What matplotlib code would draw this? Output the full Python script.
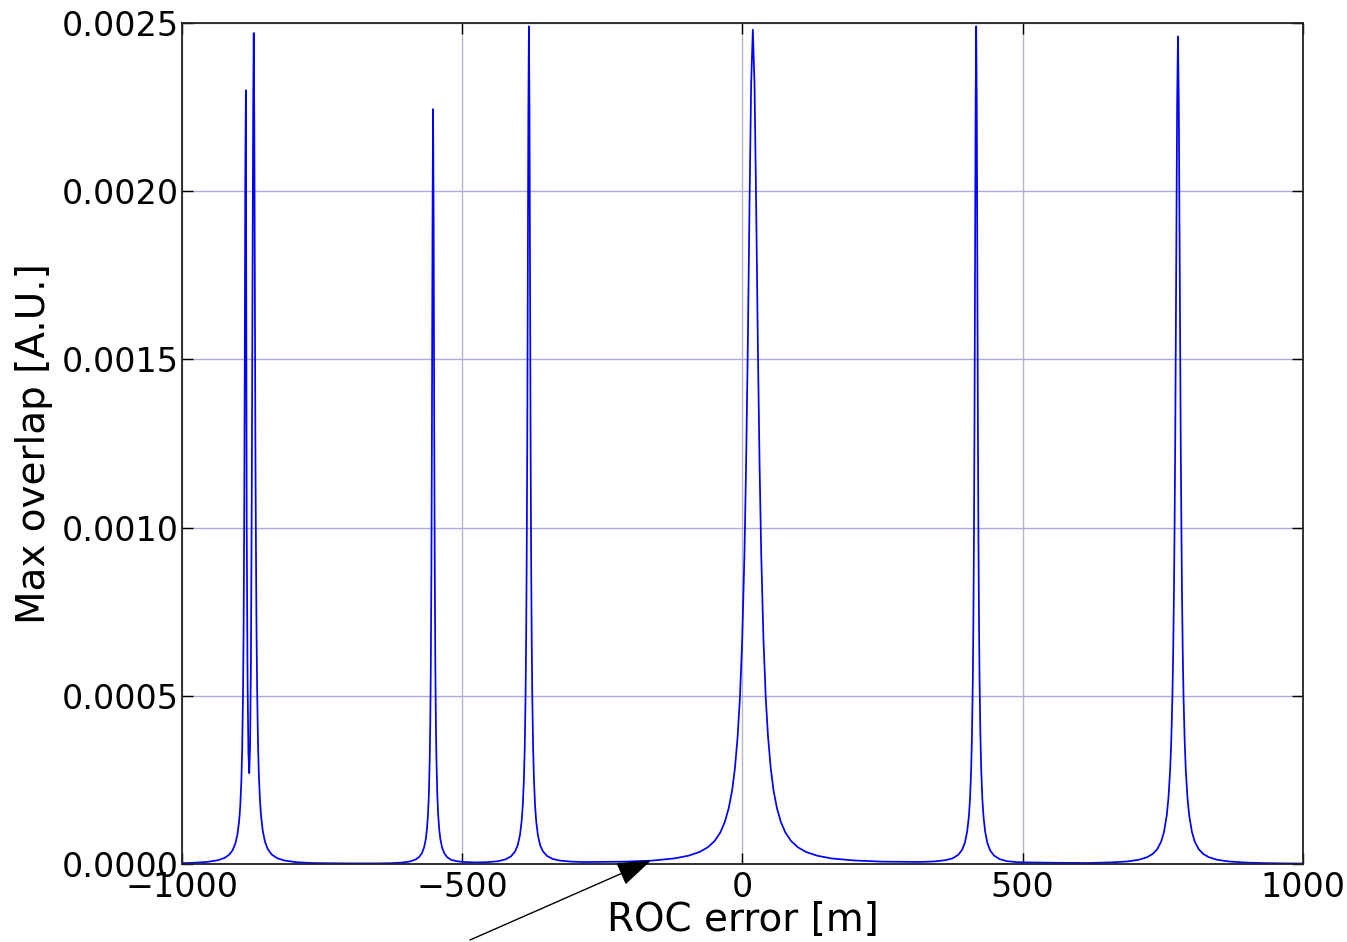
import matplotlib
matplotlib.use("Agg")
import matplotlib.pyplot as plt

# ROC error [m] / max overlap [A.U.],
# stored piece by piece (one piece per peak region) to keep them aligned.
x_double = [-1000, -986, -956, -936, -924, -916, -910, -905, -901, -898, -896, -894,
            -892.5, -891, -890, -889, -888, -887, -886,
            -884.5, -883, -881.5, -880, -878.5, -877, -875.5, -874, -873, -872,
            -871, -870, -869, -868, -867, -866, -864.5, -863, -861, -859, -856,
            -852, -847, -840, -830, -817, -797, -772, -742]
y_double = [0.0000026, 0.0000031, 0.000006, 0.0000111, 0.0000181, 0.0000273, 0.00004,
            0.0000594, 0.0000884, 0.000128, 0.000173, 0.00025, 0.000349, 0.00052,
            0.000714, 0.00102, 0.00148, 0.00207, 0.00230,
            0.00100, 0.00055, 0.00033, 0.00027, 0.00035, 0.00060, 0.00110, 0.00180,
            0.00225, 0.00247,
            0.00222, 0.00171, 0.001235, 0.00093, 0.000694, 0.00053, 0.000372,
            0.000274, 0.000194, 0.000145, 0.0000999, 0.0000667, 0.0000444,
            0.0000283, 0.0000171, 0.0000103, 0.0000056, 0.0000031, 0.0000023]

x_p3 = [-700, -652, -627, -607, -594, -584, -577, -572, -568, -565, -563, -561,
        -559.5, -558, -557, -556, -555, -554, -553, -552,
        -551, -550, -549, -548, -547, -546, -544.5, -543, -541, -539, -536,
        -532, -527, -520, -510, -497]
y_p3 = [0.0000018, 0.0000018, 0.0000025, 0.0000043, 0.0000073, 0.0000126, 0.0000205,
        0.0000319, 0.0000494, 0.0000741, 0.000102, 0.000149, 0.000208, 0.00031,
        0.000419, 0.000595, 0.000875, 0.001324, 0.00191, 0.002244,
        0.00191, 0.001324, 0.000875, 0.000595, 0.000419, 0.00031, 0.000208,
        0.000149, 0.000102, 0.0000741, 0.0000494, 0.0000319, 0.0000205,
        0.0000126, 0.0000083, 0.000006]

x_p4 = [-477, -456, -436, -423, -413, -406, -401, -397, -394, -392, -390, -388.5,
        -387, -386, -385, -384, -383, -382, -381,
        -380, -379, -378, -377, -376, -375, -373.5, -372, -370, -368, -365,
        -361, -356, -349, -339, -326, -306]
y_p4 = [0.0000047, 0.0000054, 0.0000082, 0.0000136, 0.0000227, 0.0000364, 0.0000558,
        0.0000856, 0.000127, 0.000173, 0.00025, 0.000344, 0.000499, 0.00066,
        0.000896, 0.001245, 0.00172, 0.00224, 0.00249,
        0.00224, 0.00172, 0.001245, 0.000896, 0.00066, 0.000499, 0.000344,
        0.00025, 0.000173, 0.000127, 0.0000857, 0.0000558, 0.0000378,
        0.0000242, 0.0000153, 0.0000102, 0.0000071]

x_center = [-281.5, -211.5, -161.5, -121.5, -96.5, -76.5, -61.5, -49.5, -39.5, -31.5,
            -24.5, -18.5, -13.5, -8.5, -4.5, -0.5, 3.5, 6.5, 9.5, 12.5, 15.5, 18.5,
            21.5, 24.5, 27.5, 30.5, 33.5, 37.5, 41.5, 45.5, 50.5, 55.5, 61.5, 68.5,
            76.5, 86.5, 98.5, 113.5, 133.5, 158.5, 198.5, 248.5]
y_center = [0.0000058, 0.000007, 0.0000101, 0.0000166, 0.0000246, 0.0000358,
            0.0000501, 0.0000689, 0.0000937, 0.000125, 0.000166, 0.000218, 0.000284,
            0.000381, 0.000496, 0.000665, 0.000918, 0.001188, 0.001537, 0.00195,
            0.00232, 0.00248,
            0.00232, 0.00195, 0.001537, 0.001188, 0.000918, 0.000665, 0.000496,
            0.000381, 0.000284, 0.000218, 0.000166, 0.000125, 0.0000937,
            0.0000689, 0.0000501, 0.0000358, 0.0000246, 0.0000166, 0.0000106,
            0.0000071]

x_p6 = [317, 342, 362, 375, 385, 392, 397, 401, 404, 406, 408, 409.5, 411, 412,
        413, 414, 415, 416, 417,
        418, 419, 420, 421, 422, 423, 424.5, 426, 428, 430, 433, 437, 442, 449,
        459, 472, 492, 517]
y_p6 = [0.0000061, 0.0000076, 0.0000112, 0.000017, 0.0000272, 0.0000425, 0.0000642,
        0.0000978, 0.000142, 0.000194, 0.000279, 0.000383, 0.00055, 0.000724,
        0.000971, 0.001325, 0.00179, 0.00227, 0.00249,
        0.00227, 0.00179, 0.001325, 0.000971, 0.000724, 0.00055, 0.000383,
        0.000279, 0.000194, 0.000142, 0.0000958, 0.0000622, 0.0000401,
        0.0000247, 0.0000144, 0.0000084, 0.0000053, 0.0000045]

x_p7 = [567, 617, 657, 687, 707, 722, 732, 740, 747, 752, 757, 760, 763, 765, 767,
        768.5, 770, 771, 772, 773, 774, 775.5, 777,
        778.5, 780, 781, 782, 783, 784, 785.5, 787, 789, 791, 794, 797, 802, 807,
        814, 822, 832, 847, 867, 897, 937, 1000]
y_p7 = [0.0000035, 0.000003, 0.0000047, 0.0000076, 0.0000125, 0.0000202, 0.00003,
        0.000044, 0.0000665, 0.0000946, 0.0001447, 0.000196, 0.000278, 0.000364,
        0.000492, 0.000633, 0.000832, 0.00101, 0.00123, 0.0015, 0.00181,
        0.002256, 0.00246,
        0.002256, 0.00181, 0.0015, 0.00123, 0.00101, 0.000832, 0.000633,
        0.000492, 0.000364, 0.000278, 0.000196, 0.0001447, 0.0000946,
        0.0000665, 0.000044, 0.00003, 0.0000202, 0.0000125, 0.0000076,
        0.0000043, 0.0000024, 0.0000012]

roc_error = x_double + x_p3 + x_p4 + x_center + x_p6 + x_p7
max_overlap = y_double + y_p3 + y_p4 + y_center + y_p6 + y_p7

x_ticks = [-1000, -500, 0, 500, 1000]
x_tick_labels = ["\u22121000", "\u2212500", "0", "500", "1000"]
y_ticks = [0.0, 0.0005, 0.0010, 0.0015, 0.0020, 0.0025]
y_tick_labels = ["0.0000", "0.0005", "0.0010", "0.0015", "0.0020", "0.0025"]
arrow_target = (-163, 0.0000105)

plt.rcParams["font.family"] = "DejaVu Sans"

fig = plt.figure(figsize=(13.47, 9.42), dpi=100)
ax = fig.add_axes([0.1351, 0.0828, 0.8322, 0.8928])

ax.plot(roc_error, max_overlap, color="#0000ff", lw=1.25)

ax.set_xlim(-1000, 1000)
ax.set_ylim(0, 0.0025)
ax.set_xticks(x_ticks)
ax.set_xticklabels(x_tick_labels)
ax.set_yticks(y_ticks)
ax.set_yticklabels(y_tick_labels)

ax.grid(True, axis="y", color="#a9acd9", lw=1.0)
ax.grid(True, axis="x", color="#b6b6c6", lw=1.0)
ax.set_axisbelow(True)

ax.tick_params(direction="in", length=8, width=1, top=True, right=True,
               labelsize=24, colors="black")
ax.tick_params(axis="x", pad=5)
ax.tick_params(axis="y", pad=2)
for s in ax.spines.values():
    s.set_linewidth(1.3)
    s.set_color("#222222")

ax.set_xlabel("ROC error [m]", fontsize=28, labelpad=-2)
ax.set_ylabel("Max overlap [A.U.]", fontsize=28, labelpad=6.5)

ax.annotate("", xy=arrow_target, xycoords="data",
            xytext=(470 / 1347, 1 - 940 / 942), textcoords="figure fraction",
            arrowprops=dict(arrowstyle="-|>,head_length=1.08,head_width=0.38",
                            color="black", lw=1.0, mutation_scale=20,
                            shrinkA=0, shrinkB=0),
            annotation_clip=False)

fig.savefig("out.png", dpi=100)
